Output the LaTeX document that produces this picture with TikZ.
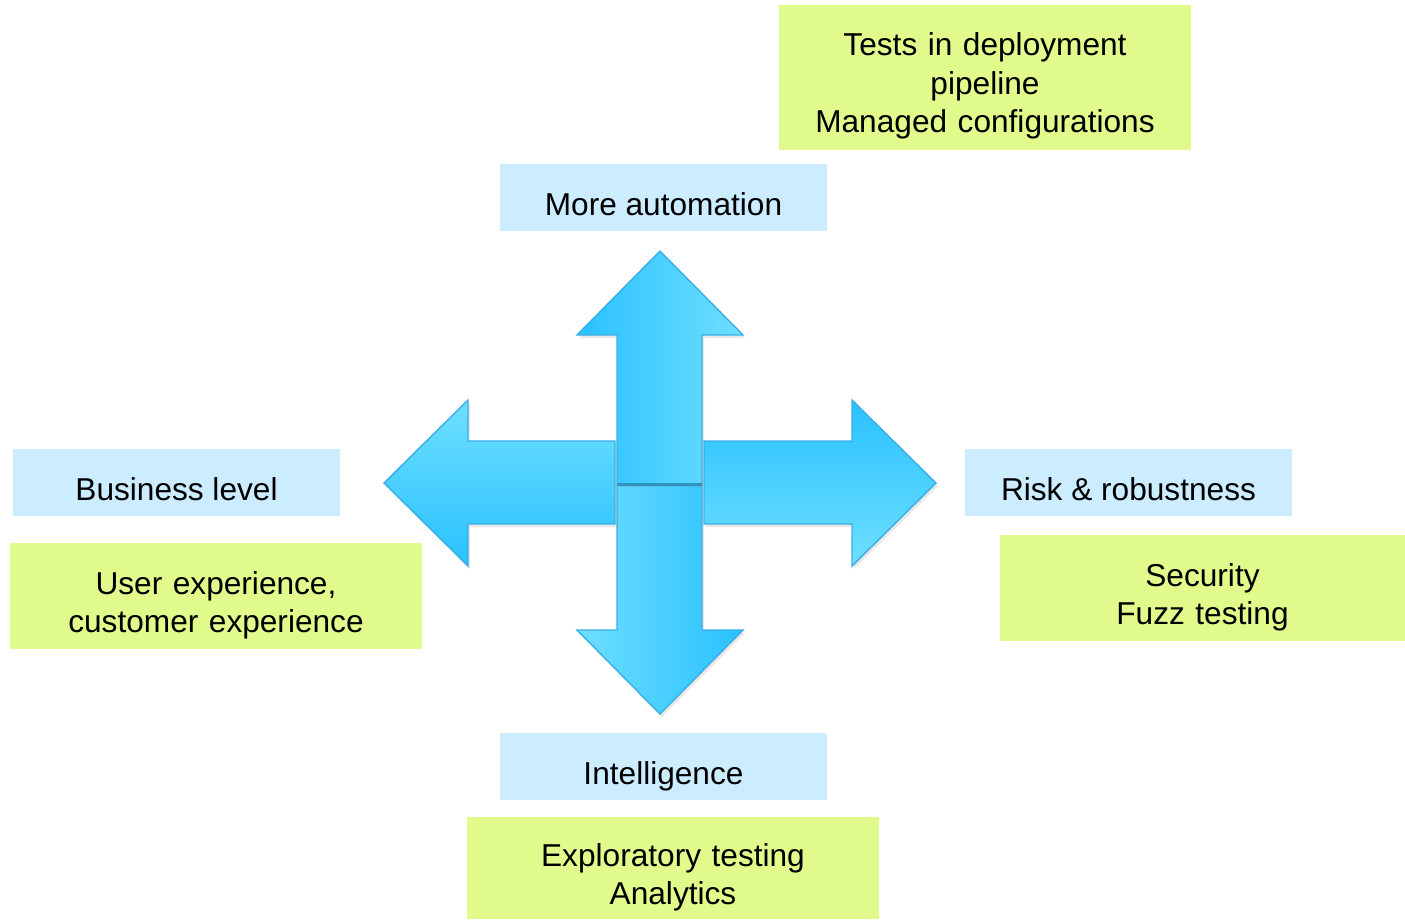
\documentclass[tikz,border=0pt]{standalone}
\usepackage{fontspec}
\setmainfont{Liberation Sans}
\usepackage{xcolor}
\usepackage{tikz}
\usetikzlibrary{shadows}
\usetikzlibrary{positioning}
\definecolor{topicblue}{HTML}{CCECFF}
\definecolor{detailgreen}{HTML}{E0FA8C}
\definecolor{arrowdark}{HTML}{29C1FF}
\definecolor{arrowlight}{HTML}{6EDFFF}
\definecolor{arrowedge}{HTML}{3AAEE6}
\tikzstyle{topic} = [rectangle, fill=topicblue, minimum width=3.27cm, minimum height=0.67cm, inner sep=0pt, text height=0.36cm, text depth=0.01cm, text centered, font=\fontsize{9}{11}\selectfont]
\tikzstyle{detail} = [rectangle, fill=detailgreen, minimum width=4.12cm, minimum height=1.06cm, inner sep=0pt, text width=4cm, text height=0.41cm, align=center, font=\fontsize{9}{11}\selectfont]
\tikzstyle{bigarrow} = [draw=arrowedge, line width=0.4pt, line join=miter, drop shadow={opacity=0.18, shadow xshift=0.02cm, shadow yshift=-0.03cm}]

\begin{document}
\begin{tikzpicture}[node distance=1cm, auto]
    \useasboundingbox (0,0) rectangle (14.05,-9.2);

    % the four directions
    \node (auto) [topic] at (6.635,-1.975) {More automation};
    \node (business) [topic] at (1.765,-4.825) {Business level};
    \node (risk) [topic] at (11.285,-4.825) {Risk \& robustness};
    \node (intel) [topic] at (6.635,-7.665) {Intelligence};

    % what each direction brings
    \node (tests) [detail, minimum height=1.45cm, above=0.13 of auto, xshift=3.215cm] {Tests in deployment\\pipeline\\Managed configurations};
    \node (ux) [detail, below=0.26 of business, xshift=0.395cm] {User experience,\\customer experience};
    \node (security) [detail, minimum width=4.05cm, below=0.18 of risk, xshift=0.74cm] {Security\\Fuzz testing};
    \node (explore) [detail, minimum height=1.02cm, below=0.16 of intel, xshift=0.095cm] {Exploratory testing\\Analytics};

    % arrows out of the middle
    \path [bigarrow, left color=arrowlight, right color=arrowdark] (6.17,-4.85) -- (6.17,-6.30) -- (5.77,-6.30) -- (6.60,-7.14) -- (7.43,-6.30) -- (7.02,-6.30) -- (7.02,-4.85) -- cycle;
    \path [bigarrow, top color=arrowlight, bottom color=arrowdark] (6.15,-4.41) -- (4.68,-4.41) -- (4.68,-4.00) -- (3.84,-4.83) -- (4.68,-5.66) -- (4.68,-5.24) -- (6.15,-5.24) -- cycle;
    \path [bigarrow, top color=arrowdark, bottom color=arrowlight] (7.04,-4.41) -- (8.52,-4.41) -- (8.52,-4.00) -- (9.36,-4.83) -- (8.52,-5.66) -- (8.52,-5.24) -- (7.04,-5.24) -- cycle;
    \path [bigarrow, left color=arrowdark, right color=arrowlight] (6.17,-4.84) -- (6.17,-3.35) -- (5.77,-3.35) -- (6.60,-2.51) -- (7.43,-3.35) -- (7.02,-3.35) -- (7.02,-4.84) -- cycle;
    \draw [arrowdark!60!black, opacity=0.5, line width=0.8pt] (6.17,-4.845) -- (7.02,-4.845);
\end{tikzpicture}
\end{document}
